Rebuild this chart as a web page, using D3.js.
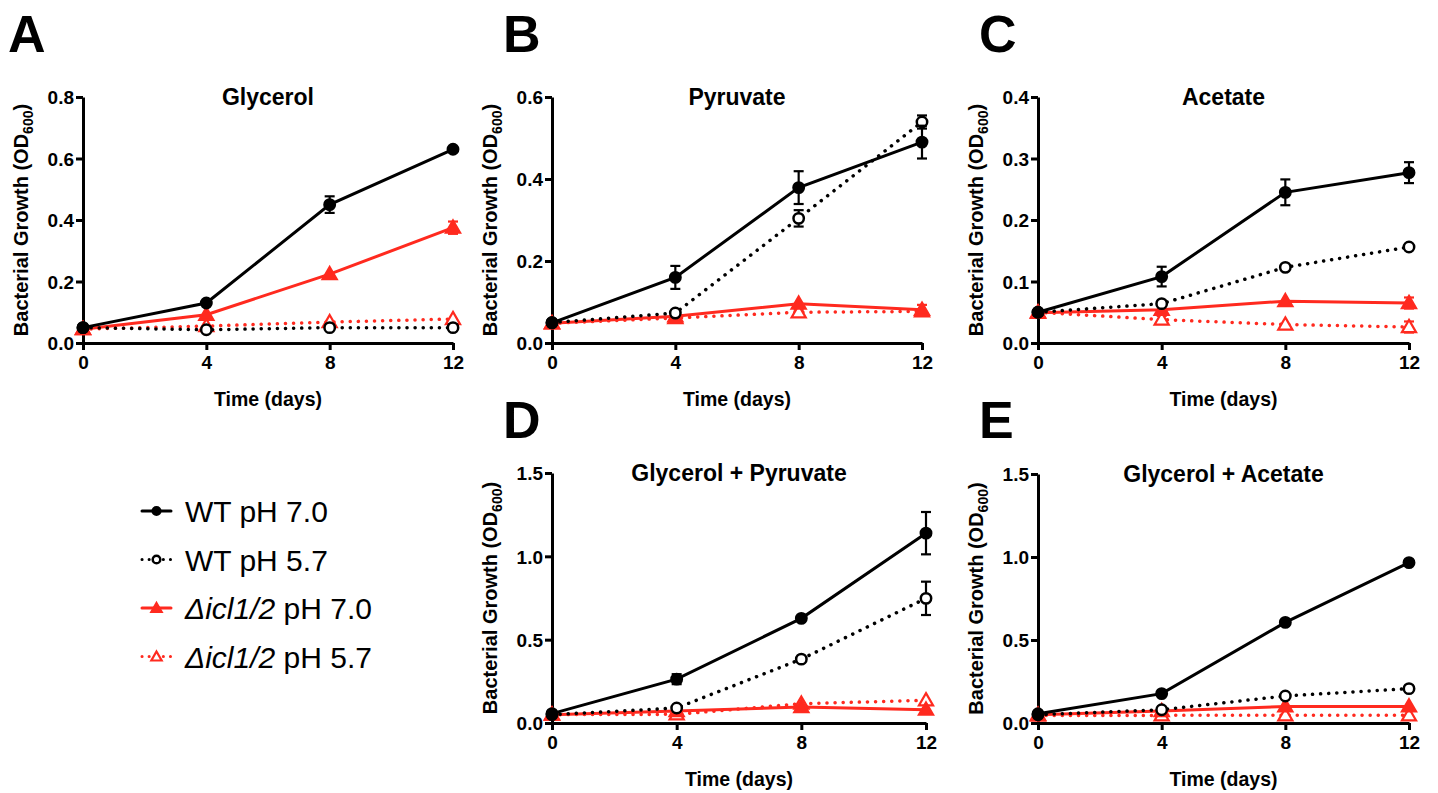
<!DOCTYPE html>
<html>
<head>
<meta charset="utf-8">
<script src="https://cdn.jsdelivr.net/npm/d3@7"></script>
<style>
  body { margin: 0; background: #fff; }
  svg text { font-family: "Liberation Sans", Arial, sans-serif; }
</style>
</head>
<body>
<div id="chart"></div>
<script>
// data
const days = [0, 4, 8, 12];
const seriesNames = ["WT pH 7.0", "WT pH 5.7", "Δicl1/2 pH 7.0", "Δicl1/2 pH 5.7"];
const panelLetters = ["A", "B", "C", "D", "E"];
const panelTitles = ["Glycerol", "Pyruvate", "Acetate", "Glycerol + Pyruvate", "Glycerol + Acetate"];
const yMaxes = [0.8, 0.6, 0.4, 1.5, 1.5];
const yTickValues = [
  [0, 0.2, 0.4, 0.6, 0.8],
  [0, 0.2, 0.4, 0.6],
  [0, 0.1, 0.2, 0.3, 0.4],
  [0, 0.5, 1.0, 1.5],
  [0, 0.5, 1.0, 1.5]
];

// rows: WT pH 7.0, WT pH 5.7, icl pH 7.0, icl pH 5.7
const glycerolMean = [[0.05, 0.13, 0.45, 0.63], [0.05, 0.043, 0.05, 0.05], [0.045, 0.092, 0.224, 0.375], [0.045, 0.055, 0.068, 0.078]];
const glycerolErr  = [[0, 0, 0.027, 0], [0, 0, 0, 0], [0, 0, 0, 0.02], [0, 0, 0, 0]];
const pyruvateMean = [[0.049, 0.16, 0.379, 0.49], [0.05, 0.073, 0.304, 0.539], [0.048, 0.065, 0.096, 0.081], [0.048, 0.061, 0.075, 0.077]];
const pyruvateErr  = [[0, 0.028, 0.04, 0.04], [0, 0, 0.02, 0.016], [0, 0, 0, 0.012], [0, 0, 0.006, 0]];
const acetateMean  = [[0.05, 0.108, 0.245, 0.277], [0.05, 0.064, 0.123, 0.156], [0.049, 0.054, 0.068, 0.065], [0.05, 0.038, 0.03, 0.026]];
const acetateErr   = [[0, 0.016, 0.021, 0.017], [0, 0, 0, 0], [0, 0, 0, 0.009], [0, 0.006, 0, 0.009]];
const glyPyrMean   = [[0.056, 0.263, 0.628, 1.139], [0.05, 0.09, 0.383, 0.748], [0.05, 0.072, 0.096, 0.08], [0.05, 0.052, 0.116, 0.136]];
const glyPyrErr    = [[0, 0.03, 0, 0.127], [0, 0, 0, 0.1], [0, 0, 0, 0], [0, 0, 0, 0]];
const glyAceMean   = [[0.056, 0.177, 0.606, 0.966], [0.05, 0.08, 0.163, 0.207], [0.05, 0.072, 0.1, 0.1], [0.045, 0.046, 0.046, 0.046]];
const glyAceErr    = [[0, 0, 0, 0], [0, 0, 0, 0], [0, 0, 0, 0], [0, 0, 0, 0]];

const panelMeans = [glycerolMean, pyruvateMean, acetateMean, glyPyrMean, glyAceMean];
const panelErrs = [glycerolErr, pyruvateErr, acetateErr, glyPyrErr, glyAceErr];

// layout
const W = 1438, H = 793;
const red = "#ff2a1f";
const boxes = [
  {x0: 83,   x1: 453,  top: 97,  bottom: 343, letterX: 8,   letterY: 52},
  {x0: 552,  x1: 922,  top: 97,  bottom: 343, letterX: 503, letterY: 52},
  {x0: 1038, x1: 1409, top: 97,  bottom: 343, letterX: 979, letterY: 52},
  {x0: 552,  x1: 926,  top: 473, bottom: 723, letterX: 503, letterY: 438},
  {x0: 1038, x1: 1409, top: 474, bottom: 723, letterX: 979, letterY: 438}
];
const styles = [
  {color: "#000", dash: null,     fill: "#000", shape: "circle"},
  {color: "#000", dash: "0.1,8",  fill: "#fff", shape: "circle"},
  {color: red,    dash: null,     fill: red,    shape: "triangle"},
  {color: red,    dash: "0.1,8",  fill: "#fff", shape: "triangle"}
];

let svg = d3.select("#chart")
  .append("svg")
  .attr("width", W)
  .attr("height", H);

function drawMarker(g, shape, cx, cy, s, r) {
  if (shape === "circle") {
    g.append("circle")
      .attr("cx", cx).attr("cy", cy).attr("r", r)
      .attr("fill", s.fill).attr("stroke", s.color).attr("stroke-width", 2.5);
  } else {
    g.append("path")
      .attr("d", d3.symbol(d3.symbolTriangle, r * r * 3.2)())
      .attr("transform", "translate(" + cx + "," + (cy + 1) + ")")
      .attr("fill", s.fill).attr("stroke", s.color).attr("stroke-width", 2.2);
  }
}

panelTitles.forEach(function(title, p) {
  let b = boxes[p];
  let g = svg.append("g");

  let x = d3.scaleLinear().domain([0, 12]).range([b.x0, b.x1]);
  let y = d3.scaleLinear().domain([0, yMaxes[p]]).range([b.bottom, b.top]);

  // panel letter
  g.append("text")
    .attr("x", b.letterX).attr("y", b.letterY)
    .attr("font-size", 52).attr("font-weight", "bold")
    .text(panelLetters[p]);

  // title
  g.append("text")
    .attr("x", (b.x0 + b.x1) / 2).attr("y", b.top + 8)
    .attr("text-anchor", "middle")
    .attr("font-size", 23).attr("font-weight", "bold")
    .text(title);

  // axes
  let yAxis = g.append("g")
    .attr("transform", "translate(" + b.x0 + ",0)")
    .call(d3.axisLeft(y).tickValues(yTickValues[p]).tickFormat(d3.format(".1f"))
      .tickSize(7).tickSizeOuter(0).tickPadding(2));
  let xAxis = g.append("g")
    .attr("transform", "translate(0," + b.bottom + ")")
    .call(d3.axisBottom(x).tickValues(days).tickFormat(d3.format("d"))
      .tickSize(7).tickSizeOuter(0).tickPadding(6));
  [yAxis, xAxis].forEach(function(a) {
    a.select(".domain").attr("stroke-width", 3).attr("stroke", "#000");
    a.selectAll(".tick line").attr("stroke-width", 3).attr("stroke", "#000");
    a.selectAll(".tick text")
      .attr("font-family", "'Liberation Sans', Arial, sans-serif")
      .attr("font-size", 19).attr("font-weight", "bold").attr("fill", "#000");
  });
  yAxis.selectAll(".tick text").attr("dy", "0.36em");

  // axis labels
  g.append("text")
    .attr("x", (b.x0 + b.x1) / 2).attr("y", b.bottom + 63)
    .attr("text-anchor", "middle")
    .attr("font-size", 19.5).attr("font-weight", "bold")
    .text("Time (days)");

  let yl = g.append("text")
    .attr("transform", "translate(" + (b.x0 - 55) + "," + ((b.top + b.bottom) / 2) + ") rotate(-90)")
    .attr("text-anchor", "middle")
    .attr("font-size", 20).attr("font-weight", "bold");
  yl.append("tspan").text("Bacterial Growth (OD");
  yl.append("tspan").attr("font-size", 14).attr("dy", 5).text("600");
  yl.append("tspan").attr("dy", -5).text(")");

  // series, drawn back to front
  let means = panelMeans[p], errs = panelErrs[p];
  [3, 2, 1, 0].forEach(function(si) {
    let s = styles[si];
    let line = d3.line().x(function(d, i) { return x(days[i]); }).y(function(d) { return y(d); });
    g.append("path")
      .datum(means[si])
      .attr("d", line)
      .attr("fill", "none")
      .attr("stroke", s.color)
      .attr("stroke-width", s.dash ? 3.5 : 3)
      .attr("stroke-linecap", "round")
      .attr("stroke-dasharray", s.dash);

    // error bars
    means[si].forEach(function(m, i) {
      let e = errs[si][i];
      if (!e) return;
      let cx = x(days[i]);
      let eg = g.append("g").attr("stroke", s.color).attr("stroke-width", 2.2);
      eg.append("line").attr("x1", cx).attr("x2", cx).attr("y1", y(m - e)).attr("y2", y(m + e));
      eg.append("line").attr("x1", cx - 5).attr("x2", cx + 5).attr("y1", y(m - e)).attr("y2", y(m - e));
      eg.append("line").attr("x1", cx - 5).attr("x2", cx + 5).attr("y1", y(m + e)).attr("y2", y(m + e));
    });

    means[si].forEach(function(m, i) {
      drawMarker(g, s.shape, x(days[i]), y(m), s, 5.2);
    });
  });
});

// legend
const legendX = 142, legendY = 511, legendStep = 48.5;
seriesNames.forEach(function(name, i) {
  let s = styles[i];
  let ly = legendY + i * legendStep;
  let lg = svg.append("g");
  lg.append("line")
    .attr("x1", legendX).attr("x2", legendX + 29)
    .attr("y1", ly).attr("y2", ly)
    .attr("stroke", s.color)
    .attr("stroke-width", 3)
    .attr("stroke-linecap", "round")
    .attr("stroke-dasharray", s.dash ? "0.1,7" : null);
  drawMarker(lg, s.shape, legendX + 14.5, ly, s, 3.8);

  let t = lg.append("text")
    .attr("x", legendX + 43).attr("y", ly + 11)
    .attr("font-size", 30);
  if (name.indexOf("Δ") === 0) {
    let parts = name.split(" ");
    t.append("tspan").attr("font-style", "italic").text(parts[0]);
    t.append("tspan").text(" " + parts.slice(1).join(" "));
  } else {
    t.text(name);
  }
});
</script>
</body>
</html>
